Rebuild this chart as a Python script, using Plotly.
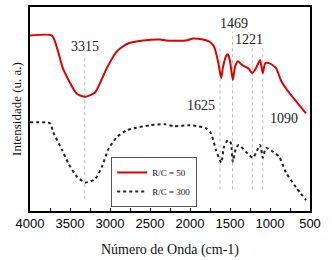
import plotly.graph_objects as go

# Wavenumber (cm-1) and intensity (arbitrary units)
wn_50 = [4000, 3725, 3650, 3590, 3415, 3313, 3190, 3040, 2915, 2775, 2585, 2375, 2300, 2050,
         1960, 1840, 1760, 1700, 1650, 1610, 1590, 1550, 1525, 1500, 1465, 1435, 1400, 1360,
         1325, 1275, 1221, 1175, 1125, 1090, 1060, 1010, 925, 860, 760, 650, 550]
int_50 = [178, 178, 162, 145, 119, 116, 120, 145, 162, 170, 173, 174, 173, 173,
          175, 174, 172, 167, 152, 135, 145, 157, 159, 152, 133, 147, 152, 149,
          147, 145, 140, 145, 153, 140, 150, 150, 145, 132, 120, 109, 99]

wn_300 = [4000, 3750, 3710, 3600, 3525, 3415, 3310, 3190, 3100, 3025, 2915, 2790, 2700, 2500,
          2310, 2200, 2000, 1900, 1800, 1740, 1675, 1610, 1575, 1525, 1490, 1465, 1425, 1390,
          1300, 1215, 1175, 1125, 1090, 1050, 960, 885, 800, 675, 550]
int_300 = [90, 89, 80, 62, 49, 35, 29, 32, 45, 62, 75, 82, 84, 87,
           88, 86, 87, 86, 84, 79, 62, 49, 65, 72, 69, 50, 64, 67,
           60, 54, 59, 67, 54, 64, 60, 55, 39, 24, 11]

peaks = [3315, 1625, 1469, 1221, 1090]
peak_labels = ["3315", "1625", "1469", "1221", "1090"]
series_names = ["R/C = 50", "R/C = 300"]
x_ticks = [4000, 3500, 3000, 2500, 2000, 1500, 1000, 500]

# line extents (data units) and label placement for each peak
line_top = [159, 169, 182, 165, 167]
line_bottom = [12, 22, 22, 22, 22]
label_x = [3312, 1862, 1450, 1262, 825]
label_y = [167, 107, 190, 174, 94]

fig = go.Figure()
fig.add_trace(go.Scatter(x=wn_50, y=int_50, mode="lines", name=series_names[0],
                         line=dict(color="#e00000", width=2, shape="spline", smoothing=0.6)))
fig.add_trace(go.Scatter(x=wn_300, y=int_300, mode="lines", name=series_names[1],
                         line=dict(color="#222222", width=2, dash="dot", shape="spline", smoothing=0.6)))

for p, t, b in zip(peaks, line_top, line_bottom):
    fig.add_shape(type="line", x0=p, x1=p, y0=b, y1=t, xref="x", yref="y",
                  line=dict(color="#bbbbbb", width=1, dash="dot"), layer="below")

for lab, lx, ly in zip(peak_labels, label_x, label_y):
    fig.add_annotation(x=lx, y=ly, text=lab, showarrow=False,
                       font=dict(family="Liberation Serif", size=14, color="#222222"))

fig.update_layout(
    width=332, height=260,
    margin=dict(l=30, r=22, t=5, b=48),
    paper_bgcolor="white", plot_bgcolor="white",
    showlegend=True,
    legend=dict(x=0.29, y=0.265, xanchor="left", yanchor="top",
                bgcolor="white", bordercolor="#555555", borderwidth=1,
                font=dict(family="Liberation Serif", size=9, color="#111111"),
                tracegroupgap=0, itemwidth=30, traceorder="normal"),
    xaxis=dict(range=[4000, 500], tickvals=x_ticks,
               ticks="inside", ticklen=3, tickcolor="black",
               minor=dict(dtick=250, ticks="inside", ticklen=3, tickcolor="black"),
               showline=True, linecolor="black", linewidth=1.5, mirror=True,
               showgrid=False, zeroline=False,
               tickfont=dict(family="Liberation Sans", size=13, color="#000000"),
               title=dict(text="Número de Onda (cm-1)", standoff=14,
                          font=dict(family="Liberation Serif", size=14, color="#111111"))),
    yaxis=dict(range=[0, 207], showticklabels=False, ticks="",
               showline=True, linecolor="black", linewidth=1.5, mirror=True,
               showgrid=False, zeroline=False,
               title=dict(text="Intensidade (u. a.)", standoff=4,
                          font=dict(family="Liberation Serif", size=13, color="#111111"))),
)

fig.write_html("out.html", config={"displayModeBar": False},
               post_script="document.body.style.margin='0';")
